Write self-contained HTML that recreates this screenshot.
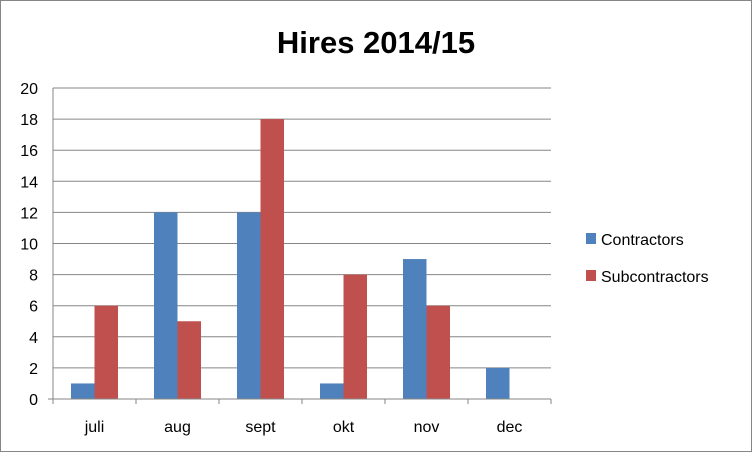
<!DOCTYPE html>
<html><head><meta charset="utf-8"><style>
html,body{margin:0;padding:0;background:#fff;}
svg{display:block;font-family:"Liberation Sans",sans-serif;}
</style></head><body>
<svg id="chart" width="752" height="452" viewBox="0 0 752 452">
<rect x="0.5" y="0.5" width="751" height="451" fill="#fff" stroke="#868686"/>
<text x="376" y="53" text-anchor="middle" font-size="31" font-weight="bold" fill="#000">Hires 2014/15</text>
<g id="grid"></g><g id="bars"></g><g id="axes"></g>
<g>
<rect x="586" y="233" width="10" height="11" fill="#4F81BD"/>
<text x="601" y="245" font-size="16">Contractors</text>
<rect x="586" y="270" width="10" height="11" fill="#C0504D"/>
<text x="601" y="282" font-size="16">Subcontractors</text>
</g>
</svg>
<script>
const categories = ["juli","aug","sept","okt","nov","dec"];
const contractors = [1,12,12,1,9,2];
const subcontractors = [6,5,18,8,6,0];
const yTicks = [0,2,4,6,8,10,12,14,16,18,20];
const NS="http://www.w3.org/2000/svg";
const x0=53,x1=551,y0=399,y1=88,yMax=20;
const band=(x1-x0)/categories.length, bw=23.5;
const y=v=>y0-(v/yMax)*(y0-y1);
const xc=i=>x0+band*(i+0.5);
function mk(tag,attrs,parent,text){const e=document.createElementNS(NS,tag);for(const k in attrs)e.setAttribute(k,attrs[k]);if(text!==undefined)e.textContent=text;document.getElementById(parent).appendChild(e);return e;}
yTicks.forEach(t=>{
  if(t>0){const l=mk("line",{x1:x0,x2:x1,y1:y(t),y2:y(t),stroke:"#868686","stroke-width":1},"grid");
  
  }
  const tx=mk("text",{x:38,y:y(t)+6,"text-anchor":"end","font-size":16},"axes",String(t));
  
  
});
categories.forEach((c,i)=>{
  const b1=mk("rect",{x:xc(i)-bw,y:y(contractors[i]),width:bw,height:y0-y(contractors[i]),fill:"#4F81BD"},"bars");
  
  
  const b2=mk("rect",{x:xc(i),y:y(subcontractors[i]),width:bw,height:y0-y(subcontractors[i]),fill:"#C0504D"},"bars");
  
  
  const tx=mk("text",{x:xc(i),y:432,"text-anchor":"middle","font-size":16},"axes",c);
  
  
  const tk=mk("line",{x1:x0+band*(i+1),x2:x0+band*(i+1),y1:y0,y2:y0+5,stroke:"#868686"},"axes");
  
  
});
const ya=mk("line",{x1:x0,x2:x0,y1:y1,y2:y0+5,stroke:"#868686"},"axes");


const xa=mk("line",{x1:x0-5,x2:x1,y1:y0,y2:y0,stroke:"#868686"},"axes");


</script>
</body></html>
